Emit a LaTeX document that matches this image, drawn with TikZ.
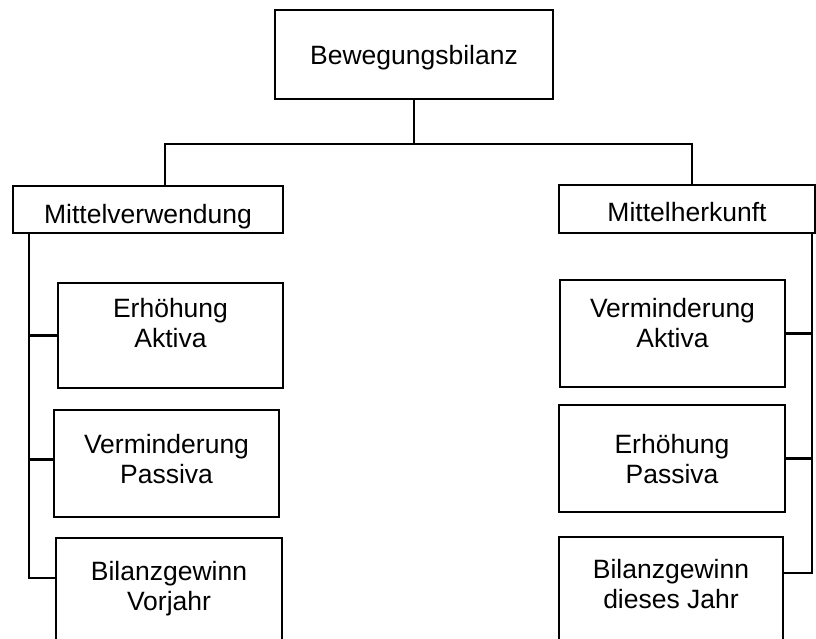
\documentclass[tikz,border=0pt]{standalone}
\usepackage{fontspec}
\setmainfont{Liberation Sans}
\begin{document}
\begin{tikzpicture}[x=1pt,y=-1pt,line width=2.4pt,
    box/.style={draw, align=center, inner sep=0pt, font=\fontsize{26.5}{30}\selectfont}]
    \useasboundingbox (0,0) rectangle (816,639);
    \clip (0,0) rectangle (816,639);
    \node[box, minimum width=278pt, minimum height=89pt, text height=21pt, text depth=0pt] (B) at (414,54.5) {Bewegungsbilanz};
    \node[box, minimum width=270pt, minimum height=47pt, text height=27pt, text depth=0pt] (MV) at (148,209.5) {Mittelverwendung};
    \node[box, minimum width=256pt, minimum height=48pt, text height=26pt, text depth=0pt] (MH) at (687,209) {Mittelherkunft};
    % linke Seite
    \node[box, minimum width=225pt, minimum height=105pt, text depth=25.7pt] (EA) at (170.5,335.5) {Erhöhung\\Aktiva};
    \node[box, minimum width=225pt, minimum height=107pt, text depth=9.7pt] (VP) at (166.5,463.5) {Verminderung\\Passiva};
    \node[box, minimum width=226pt, minimum height=120pt, text depth=24.7pt] (BV) at (169,598) {Bilanzgewinn\\Vorjahr};
    % rechte Seite
    \node[box, minimum width=225pt, minimum height=107pt, text depth=21.7pt] (VA) at (672.5,333.5) {Verminderung\\Aktiva};
    \node[box, minimum width=226pt, minimum height=107pt, text depth=0pt] (EP) at (672,458.5) {Erhöhung\\Passiva};
    \node[box, minimum width=224pt, minimum height=120pt, text depth=26.7pt] (BJ) at (671,597) {Bilanzgewinn\\dieses Jahr};
    \coordinate (jl) at (165,144);
    \coordinate (jr) at (692,144);
    \coordinate (sl) at (29,0);
    \coordinate (sr) at (812,0);
    \draw (B.south) -- (B.south |- jl);
    \draw (jl |- MV.north) -- (jl) -- (jr) -- (jr |- MH.north);
    \draw (sl |- MV.south) |- ([yshift=20pt]BV.west);
    \draw (EA.west) -- (EA.west -| sl);
    \draw ([yshift=4pt]VP.west) -- ([yshift=4pt]VP.west -| sl);
    \draw (sr |- MH.south) |- ([yshift=24pt]BJ.east);
    \draw (VA.east) -- (VA.east -| sr);
    \draw (EP.east) -- (EP.east -| sr);
  \end{tikzpicture}
\end{document}
